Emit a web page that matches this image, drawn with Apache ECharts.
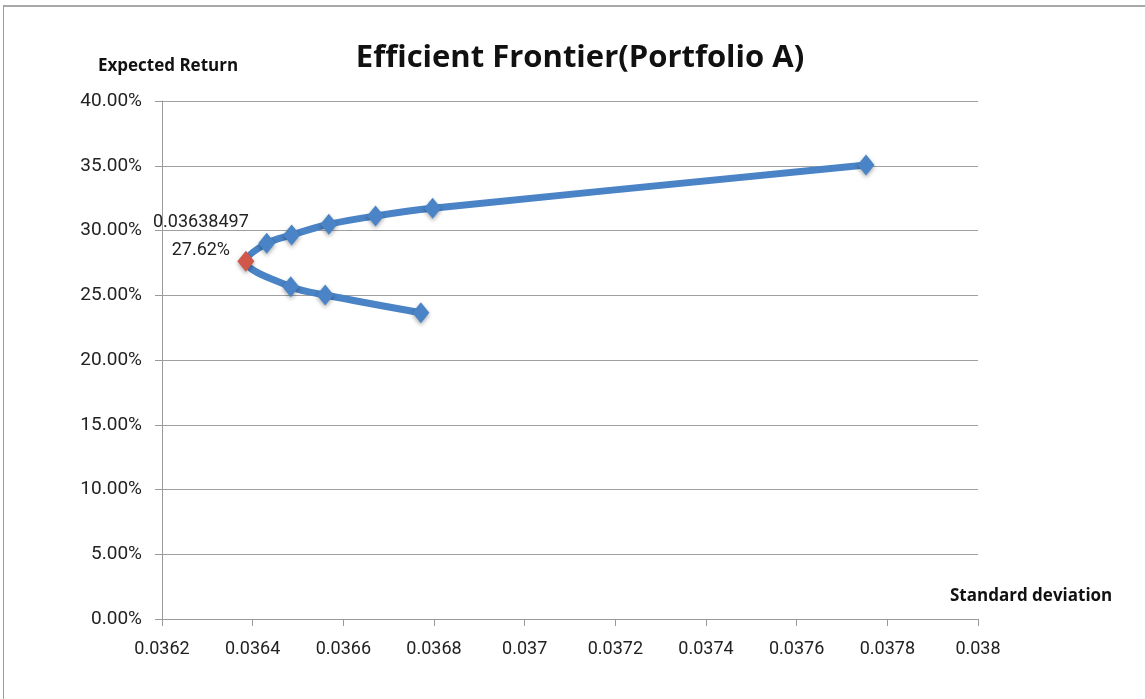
<!DOCTYPE html>
<html><head><meta charset="utf-8">
<script src="https://cdn.jsdelivr.net/npm/echarts@6/dist/echarts.min.js"></script>
<style>
html,body{margin:0;padding:0;background:#fff;}
#frame{position:absolute;left:3px;top:5px;width:1150px;height:700px;border-left:1px solid #9a9a9a;border-top:2px solid #a8a8a8;}
#c{position:absolute;left:0;top:0;width:1145px;height:699px;}
</style></head>
<body>
<div id="frame"></div>
<div id="c"></div>
<script>
// Standard deviation (x) and expected return in % (y), in line order
const stdDev = [0.037753, 0.036797, 0.036671, 0.036568, 0.036486, 0.036431, 0.03638497, 0.036484, 0.036560, 0.036771];
const expReturn = [35.06, 31.71, 31.12, 30.48, 29.65, 29.01, 27.62, 25.66, 25.02, 23.65];
const minIndex = 6;
const xTicks = [0.0362, 0.038, 0.0002];
const yTicks = [0, 40, 5];

const FONT = 'Roboto';
const BOLD = 'Open Sans';
const chart = echarts.init(document.getElementById('c'));
const data = stdDev.map((x, i) => {
  const d = { value: [x, expReturn[i]] };
  if (i === minIndex) {
    d.itemStyle = { color: '#d0574a' };
    d.label = {
      show: true,
      position: 'inside',
      offset: [-45, -25],
      align: 'center',
      formatter: stdDev[i] + '\n' + expReturn[i].toFixed(2) + '%',
      fontSize: 18,
      lineHeight: 28,
      color: '#222',
      fontFamily: FONT
    };
  }
  return d;
});
chart.setOption({
  animation: false,
  title: {
    text: 'Efficient Frontier(Portfolio A)',
    left: 575, top: 38, textAlign: 'center',
    textStyle: { fontSize: 31, fontWeight: 'bold', color: '#111', fontFamily: BOLD }
  },
  grid: { left: 162, right: 167, top: 101, bottom: 80 },
  xAxis: {
    type: 'value', min: xTicks[0], max: xTicks[1], interval: xTicks[2],
    name: 'Standard deviation', nameLocation: 'end',
    nameGap: 0,
    nameTextStyle: { fontSize: 17, fontWeight: 'bold', color: '#111', fontFamily: BOLD, align: 'left', verticalAlign: 'bottom', padding: [0, 0, 14, -28] },
    axisLine: { lineStyle: { color: '#9a9a9a' } },
    axisTick: { show: true, length: 7, lineStyle: { color: '#9a9a9a' } },
    splitLine: { show: false },
    axisLabel: { fontSize: 18, color: '#222', margin: 21, fontFamily: FONT,
      formatter: v => v.toFixed(4).replace(/0+$/, '') }
  },
  yAxis: {
    type: 'value', min: yTicks[0], max: yTicks[1], interval: yTicks[2],
    name: 'Expected Return', nameLocation: 'end', nameGap: 26,
    nameTextStyle: { fontSize: 17, fontWeight: 'bold', color: '#111', fontFamily: BOLD, align: 'center', padding: [0, 0, 0, 12] },
    axisLine: { show: true, lineStyle: { color: '#9a9a9a' } },
    axisTick: { show: true, length: 7, lineStyle: { color: '#9a9a9a' } },
    splitLine: { lineStyle: { color: '#a0a0a0' } },
    axisLabel: { fontSize: 19, color: '#222', margin: 20, fontFamily: FONT,
      formatter: v => v.toFixed(2) + '%' }
  },
  series: [{
    type: 'line',
    data: data,
    smooth: 0.35,
    symbol: 'diamond',
    symbolSize: [17, 21],
    lineStyle: { color: '#4a84c6', width: 7 },
    itemStyle: { color: '#4a84c6', shadowBlur: 4, shadowColor: 'rgba(0,0,0,0.35)', shadowOffsetY: 2 }
  }]
});
</script>
</body></html>
